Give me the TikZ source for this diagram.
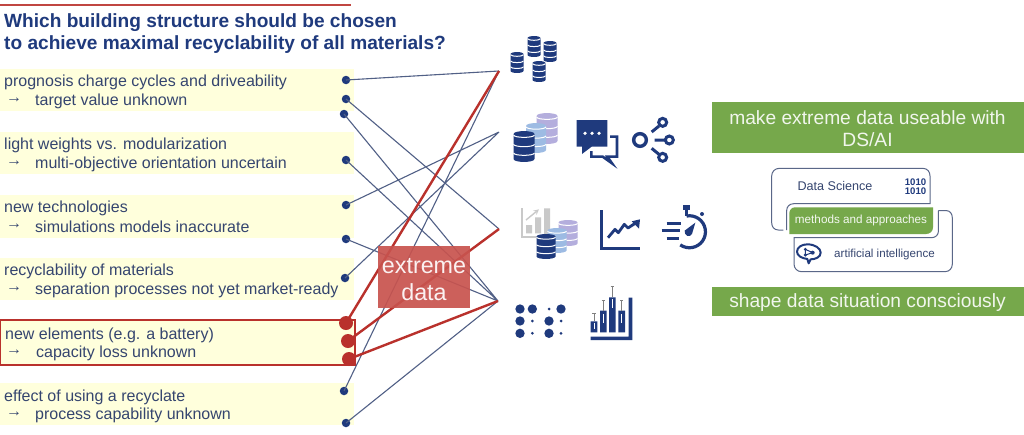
\documentclass[tikz,border=0pt]{standalone}
\usepackage{fontspec}
\setmainfont{Liberation Sans}
\definecolor{navy}{HTML}{1F3A7D}
\definecolor{txt}{HTML}{35456F}
\definecolor{band}{HTML}{FFFFDC}
\definecolor{redd}{HTML}{B9312C}
\definecolor{boxred}{HTML}{C8534E}
\definecolor{grn}{HTML}{76A84B}
\definecolor{lblue}{HTML}{9DBBE3}
\definecolor{lpurp}{HTML}{B4AEDD}
\definecolor{lgrey}{HTML}{C9C9C9}
\definecolor{outl}{HTML}{5A6788}
\newcommand\dbstack[5]{\begin{scope}[shift={(#1,#2)},x=#3pt,y=-#4pt]
\fill[#5] (-.5,.1) .. controls (-.5,-.03) and (.5,-.03) .. (.5,.1) -- (.5,.9) .. controls (.5,1.03) and (-.5,1.03) .. (-.5,.9) -- cycle;
\foreach \q in {.13,.43,.71}{\draw[white,line width=1pt] (-.5,\q) .. controls (-.45,\q+.1) and (.45,\q+.1) .. (.5,\q);}
\end{scope}}
\tikzset{
 x=1pt,y=-1pt,
 line1/.style={anchor=west,inner sep=0,text=txt,font=\fontsize{16}{18}\selectfont},
 bandbox/.style={fill=band},
 dot/.style={circle,fill=navy,inner sep=0,minimum size=8.5pt},
 rdot/.style={circle,fill=redd,inner sep=0,minimum size=14pt},
 conn/.style={draw=outl!85!navy,line width=1.1pt},
 rconn/.style={draw=redd,line width=2.4pt},
 titletext/.style={anchor=west,inner sep=0,text=navy,font=\bfseries\fontsize{19.1}{22}\selectfont},
 grnbox/.style={fill=grn},
 grntext/.style={anchor=center,inner sep=0,text=white!90!grn,font=\fontsize{19.2}{22}\selectfont},
 icon/.style={navy,line width=3pt},
 zoomed/.style={x=.33333pt,y=-.33333pt},
}
\begin{document}
\begin{tikzpicture}
\useasboundingbox (0,0) rectangle (1024,434);
\fill[white] (0,0) rectangle (1024,434);
\draw[redd!90!white,line width=2.2pt] (0,5) -- (351,5);
\node[titletext] (t1) at (4,22.5) {Which building structure should be chosen};
\node[titletext] (t2) at (4,45) {to achieve maximal recyclability of all materials?};
% bands
\fill[bandbox] (0,69) rectangle (354,111);
\fill[bandbox] (0,132) rectangle (354,174);
\fill[bandbox] (0,195) rectangle (354,238);
\fill[bandbox] (0,258) rectangle (354,300);
\fill[bandbox] (0,383) rectangle (354,425);
\draw[redd,line width=1.6pt,fill=band] (0.5,320) rectangle (355,365);
% text
\foreach \n/\ya/\yb/\xa/\xb/\a/\b in {
 a/82.5/101/4/35/{prognosis charge cycles and driveability}/{target value unknown},
 b/145.5/164/4/35/{light weights vs. modularization}/{multi-objective orientation uncertain},
 c/208.5/227/4/35/{new technologies}/{simulations models inaccurate},
 d/271.5/290/4/35/{recyclability of materials}/{separation processes not yet market-ready},
 e/335/353.5/5/36/{new elements (e.g. a battery)}/{capacity loss unknown},
 f/397/415.5/4/35/{effect of using a recyclate}/{process capability unknown}}{
 \node[line1] (\n1) at (\xa,\ya) {\a};
 \node[line1,font=\bfseries\fontsize{16}{18}\selectfont] (\n0) at (6,\yb-1) {→};
 \node[line1] (\n2) at (\xb,\yb) {\b};
}
% dots and hubs
\coordinate (h1) at (499,71);
\coordinate (h2) at (499,132);
\coordinate (h3) at (499,229);
\coordinate (h4) at (498,301);
\node[dot] (d1) at (346,80) {};
\node[dot] (d2) at (346,99) {};
\node[dot] (d3) at (344,114) {};
\node[dot] (d4) at (346,160) {};
\node[dot] (d5) at (346,205) {};
\node[dot] (d6) at (346,239) {};
\node[dot] (d7) at (345,278) {};
\node[dot] (d8) at (344,391) {};
\node[dot] (d9) at (346,423) {};
\node[rdot] (r1) at (346,323) {};
\node[rdot] (r2) at (348,341) {};
\node[rdot] (r3) at (349,359) {};
\draw[conn] (d1.center)--(h1) (d2.center)--(h3) (d3.center)--(h4) (d4.center)--(h4) (d5.center)--(h2)
 (d6.center)--(h4) (d7.center)--(h2) (d8.center)--(h1) (d9.center)--(h4);
\draw[rconn] (r1.center)--(h1) (r2.center)--(h3) (r3.center)--(h4);
% extreme data
\node[fill=boxred,fill opacity=.92,minimum width=92pt,minimum height=62pt,inner sep=0] (xd) at (424,277) {};
\node[text=white!92!boxred,inner sep=0,align=center,font=\fontsize{23.3}{27}\selectfont] (xt) at (424,280) {extreme\\data};
% top databases
\dbstack{534}{36}{13}{21}{navy}
\dbstack{550}{41}{13}{21}{navy}
\dbstack{517}{52}{13}{21}{navy}
\dbstack{539}{61}{13}{21}{navy}
% row 2
\dbstack{547}{113}{21}{31}{lpurp}
\dbstack{536}{123}{20}{30}{lblue}
\dbstack{524}{131}{21}{31}{navy}
\begin{scope}[shift={(490,20)},zoomed]
 \fill[navy] (260,300) -- (352,300) -- (352,380) -- (305,380) -- (276,402) -- (276,380) -- (260,380) -- cycle;
 \foreach \X in {285,306,327}{\fill[white] (\X,340) circle[radius=5.5];}
 \draw[navy,line width=2.6pt] (360,350) -- (381,350) -- (381,410) -- (352,410) -- (366,430) -- (338,410) -- (304,410) -- (304,393);
 \draw[icon,line width=3.4pt] (450,360) circle[radius=19];
 \draw[icon] (518,307) circle[radius=12] (538,360) circle[radius=12] (518,412) circle[radius=12];
 \draw[icon] (485,336) -- (507,318) (494,360) -- (526,360) (485,385) -- (507,403);
\end{scope}
% row 3
\begin{scope}[shift={(490,190)},zoomed]
 \draw[lgrey,line width=2.2pt] (95,55) -- (95,142) -- (180,142);
 \fill[lgrey] (108,105) rectangle (126,130) (135,82) rectangle (153,130) (162,55) rectangle (180,142);
 \draw[lgrey,line width=1.4pt,-stealth] (108,90) -- (147,58);
 \draw[navy,line width=3.2pt] (335,60) -- (335,175) -- (450,175);
 \draw[navy,line width=2.8pt,line join=round] (354,143) -- (375,118) -- (385,128) -- (403,103) -- (414,114) -- (440,97);
 \fill[navy] (450,88) -- (447,116) -- (425,94) -- cycle;
 \draw[navy,line width=3.2pt] (590,78) arc[start angle=-100,end angle=125,radius=48];
 \draw[navy,line width=3pt] (530,100) -- (572,100) (515,122) -- (570,122) (530,145) -- (568,145);
 \fill[navy] (579,46) rectangle (601,60);
 \draw[navy,line width=2.4pt] (590,60) -- (590,78);
 \fill[navy] (636,72) circle[radius=6];
 \fill[navy] (616,98) -- (606,132) .. controls (600,144) and (582,138) .. (584,122) -- cycle;
 % scatter
 \foreach \X/\Y in {90/357,127/357,213/357,90/393,177/393,90/430,177/430}{\fill[navy] (\X,\Y) circle[radius=14];}
 \foreach \X/\Y in {177/357,127/393,213/393,127/430,213/430}{\fill[navy] (\X,\Y) circle[radius=4.5];}
 % box chart
 \fill[navy] (416,323) rectangle (427,450) (302,440) rectangle (427,450);
 \fill[navy] (302,394) rectangle (322,427) (330,362) rectangle (350,427) (357,322) rectangle (377,427) (385,362) rectangle (405,427);
 \draw[white,line width=.8pt] (312,400) -- (312,418) (340,372) -- (340,400) (367,328) -- (367,355) (395,372) -- (395,400);
 \draw[gray,line width=.9pt] (307,371) -- (317,371) (312,371) -- (312,394)
  (335,330) -- (345,330) (340,330) -- (340,362)
  (362,290) -- (372,290) (367,290) -- (367,322)
  (390,330) -- (400,330) (395,330) -- (395,362);
\end{scope}
\dbstack{568}{220}{19}{26}{lpurp}
\dbstack{557}{228}{19}{25}{lblue}
\dbstack{546}{234}{19}{25}{navy}
% right
\fill[grnbox] (712,102) rectangle (1024,153);
\fill[grnbox] (712,287) rectangle (1024,316);
\node[grntext] (g1) at (867.5,118) {make extreme data useable with};
\node[grntext] (g2) at (867.5,140) {DS/AI};
\node[grntext] (g3) at (867.5,302.5) {shape data situation consciously};
\begin{scope}[shift={(700,90)},zoomed]
 \draw[outl,line width=1pt] (250,420) -- (235,420) .. controls (222,420) and (215,410) .. (215,398) -- (215,258) .. controls (215,245) and (225,235) .. (238,235) -- (668,235) .. controls (682,235) and (690,245) .. (690,258) -- (690,341) -- (282,341) .. controls (268,341) and (260,350) .. (260,362) -- (260,420);
 \fill[grn] (268,432) -- (268,370) .. controls (268,360) and (275,352) .. (285,352) -- (699,352) -- (699,412) .. controls (699,424) and (690,432) .. (678,432) -- cycle;
 \draw[outl,line width=1pt] (715,362) -- (740,362) .. controls (750,362) and (757,372) .. (757,384) -- (757,522) .. controls (757,535) and (748,545) .. (735,545) -- (304,545) .. controls (292,545) and (282,535) .. (282,522) -- (282,443) -- (695,443) .. controls (707,443) and (715,434) .. (715,425) -- (715,362);
\end{scope}
\node[inner sep=0,text=txt,font=\fontsize{12.6}{15}\selectfont] (ds) at (835,186) {Data Science};
\node[inner sep=0,text=white!92!grn,font=\fontsize{11.7}{14}\selectfont] (ma) at (861,220) {methods and approaches};
\node[inner sep=0,text=txt,font=\fontsize{11.6}{14}\selectfont] (ai) at (884.5,254.5) {artificial intelligence};
\node[inner sep=0,text=navy,align=center,font=\bfseries\fontsize{9.6}{9}\selectfont] (bin) at (915.5,186.5) {1010\\1010};
\begin{scope}[shift={(700,90)},zoomed]
 \draw[navy,line width=2pt,line join=round] (322,463) .. controls (345,463) and (362,475) .. (362,488) .. controls (362,502) and (345,508) .. (332,508) -- (326,520) -- (322,507) .. controls (305,505) and (291,497) .. (291,485) .. controls (291,472) and (305,463) .. (322,463) -- cycle;
 \draw[navy,line width=1pt] (316,478) -- (338,488) -- (316,495) -- cycle;
 \fill[navy] (316,478) circle[radius=5] (338,488) circle[radius=6] (316,495) circle[radius=5];
\end{scope}
\end{tikzpicture}
\end{document}
